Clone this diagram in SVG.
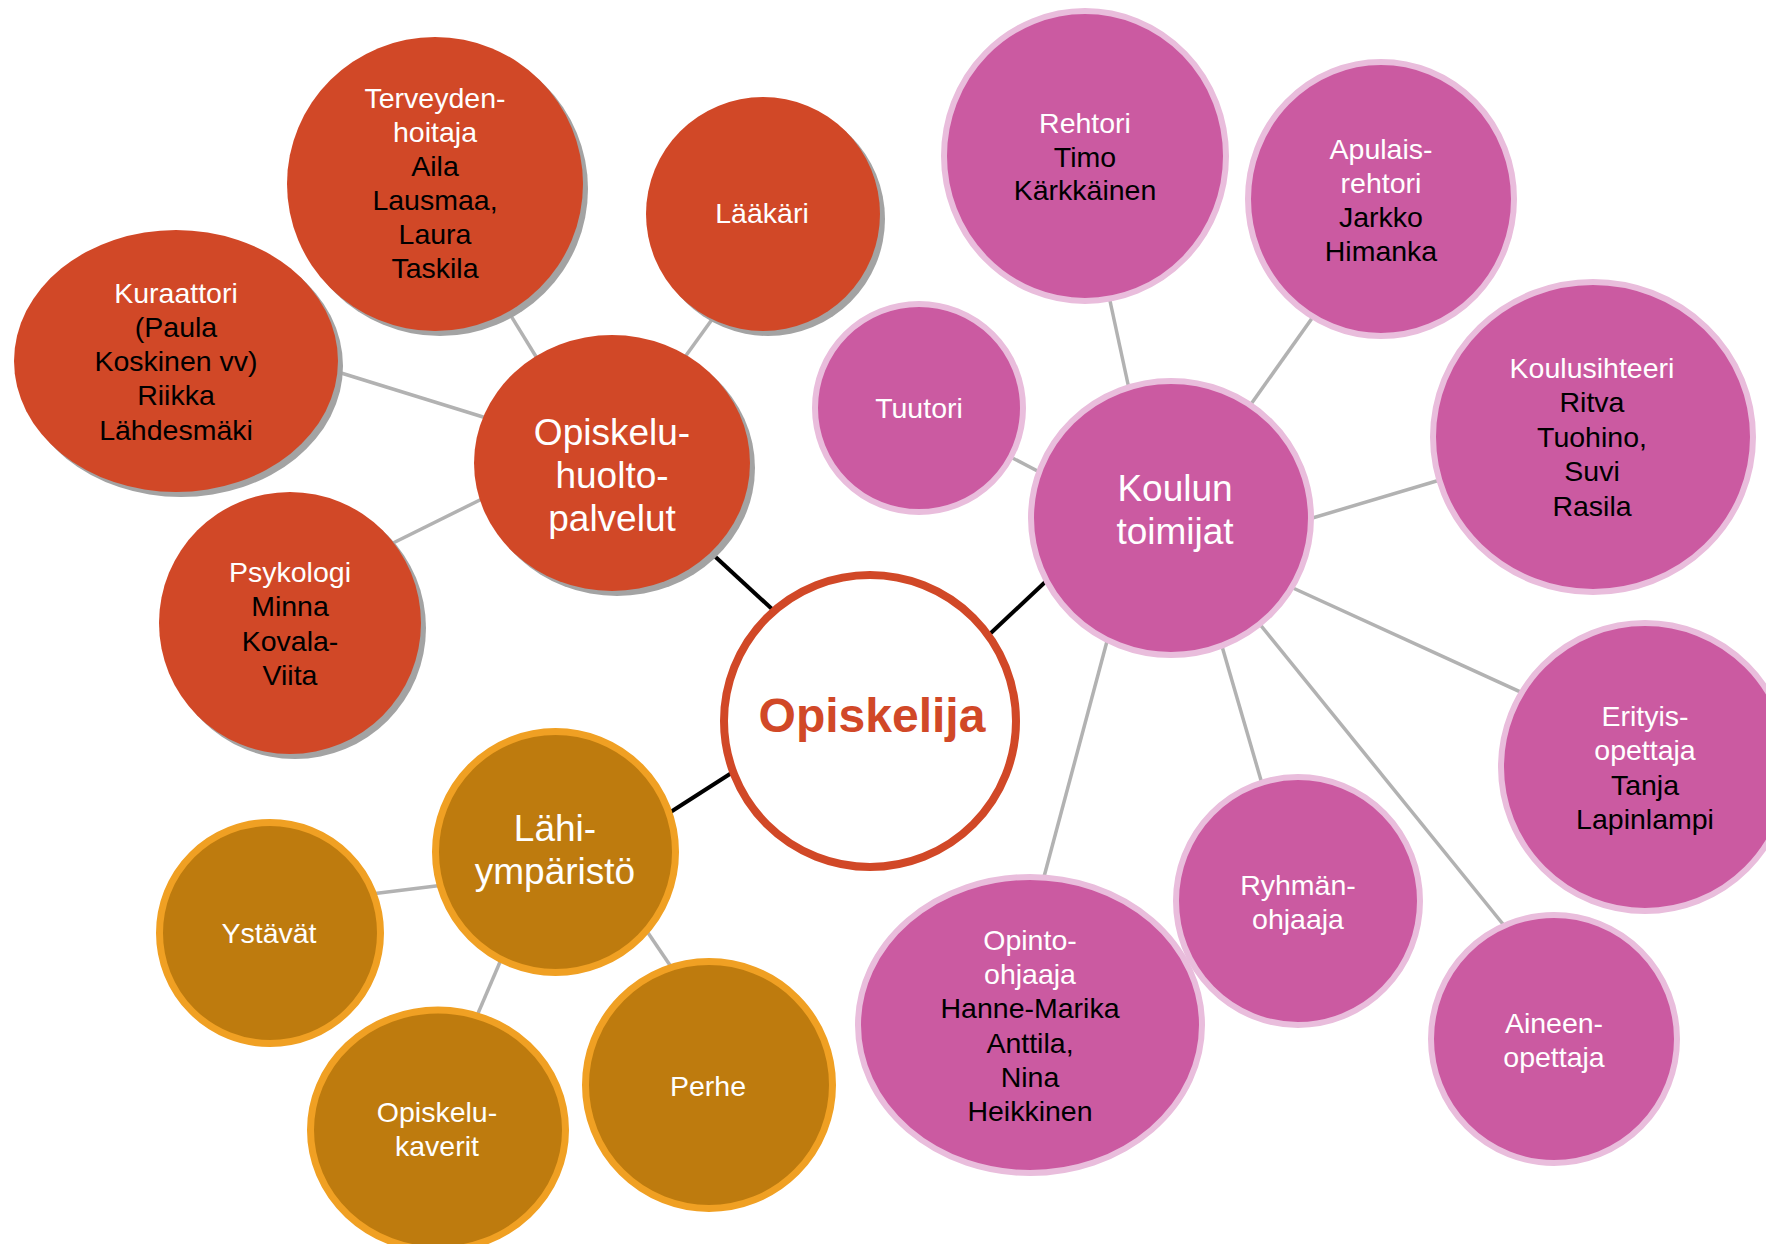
<svg xmlns="http://www.w3.org/2000/svg" width="1766" height="1244" viewBox="0 0 1766 1244">
<style>
.red{fill:#D14827}
.sh{fill:#A3A3A3}
.pink{fill:#CB5AA1;stroke:#E9BDDC;stroke-width:6}
.gold{fill:#BE7B0E;stroke:#F0A023;stroke-width:7}
.ring{fill:#FFFFFF;stroke:#D14827;stroke-width:8}
text{font-family:"Liberation Sans",Arial,sans-serif;text-anchor:middle;font-size:28.5px}
.big{font-size:37px}
.w{fill:#FFFFFF}
.b{fill:#000000}
.title{font-size:48px;font-weight:bold;fill:#D14827}
.conn line{stroke:#B2B2B2;stroke-width:3.5}
.conn line.k{stroke:#000000;stroke-width:4}
</style>
<rect width="1766" height="1244" fill="#FFFFFF"/>
<g id="connectors" class="conn">
<line class="k" x1="695" y1="538" x2="786" y2="622"/>
<line class="k" x1="1059" y1="569" x2="976" y2="647"/>
<line class="k" x1="655" y1="822" x2="747" y2="763"/>
<line x1="500" y1="298" x2="543" y2="368"/>
<line x1="721" y1="307" x2="677" y2="368"/>
<line x1="325" y1="368" x2="496" y2="421"/>
<line x1="381" y1="549" x2="494" y2="493"/>
<line x1="1107" y1="287" x2="1131" y2="398"/>
<line x1="1320" y1="307" x2="1244" y2="414"/>
<line x1="999" y1="451" x2="1049" y2="477"/>
<line x1="1450" y1="477" x2="1299" y2="522"/>
<line x1="1282" y1="583" x2="1538" y2="700"/>
<line x1="1110" y1="630" x2="1041" y2="888"/>
<line x1="1219" y1="636" x2="1265" y2="794"/>
<line x1="1254" y1="617" x2="1511" y2="934"/>
<line x1="363" y1="895" x2="452" y2="884"/>
<line x1="506" y1="948" x2="473" y2="1025"/>
<line x1="640" y1="921" x2="678" y2="977"/>
</g>
<g id="terveydenhoitaja">
<ellipse class="sh" cx="440" cy="189" rx="148" ry="147"/>
<ellipse class="red" cx="435" cy="184" rx="148" ry="147"/>
<text x="435" y="108" class="w">Terveyden-</text>
<text x="435" y="142" class="w">hoitaja</text>
<text x="435" y="176" class="b">Aila</text>
<text x="435" y="210" class="b">Lausmaa,</text>
<text x="435" y="244" class="b">Laura</text>
<text x="435" y="278" class="b">Taskila</text>
</g>
<g id="laakari">
<ellipse class="sh" cx="768" cy="219" rx="117" ry="117"/>
<ellipse class="red" cx="763" cy="214" rx="117" ry="117"/>
<text x="762" y="223" class="w">Lääkäri</text>
</g>
<g id="kuraattori">
<ellipse class="sh" cx="181" cy="366" rx="162" ry="131"/>
<ellipse class="red" cx="176" cy="361" rx="162" ry="131"/>
<text x="176" y="303" class="w">Kuraattori</text>
<text x="176" y="337" class="b">(Paula</text>
<text x="176" y="371" class="b">Koskinen vv)</text>
<text x="176" y="405" class="b">Riikka</text>
<text x="176" y="440" class="b">Lähdesmäki</text>
</g>
<g id="psykologi">
<ellipse class="sh" cx="295" cy="628" rx="131" ry="131"/>
<ellipse class="red" cx="290" cy="623" rx="131" ry="131"/>
<text x="290" y="582" class="w">Psykologi</text>
<text x="290" y="616" class="b">Minna</text>
<text x="290" y="651" class="b">Kovala-</text>
<text x="290" y="685" class="b">Viita</text>
</g>
<g id="opiskeluhuoltopalvelut">
<ellipse class="sh" cx="617" cy="468" rx="138" ry="128"/>
<ellipse class="red" cx="612" cy="463" rx="138" ry="128"/>
<text x="612" y="445" class="w big">Opiskelu-</text>
<text x="612" y="488" class="w big">huolto-</text>
<text x="612" y="531" class="w big">palvelut</text>
</g>
<g id="opiskelija">
<circle class="ring" cx="870" cy="721" r="146"/>
<text x="872" y="732" class="title">Opiskelija</text>
</g>
<g id="koulun-toimijat">
<ellipse class="pink" cx="1171" cy="518" rx="140" ry="137"/>
<text x="1175" y="501" class="w big">Koulun</text>
<text x="1175" y="544" class="w big">toimijat</text>
</g>
<g id="rehtori">
<ellipse class="pink" cx="1085" cy="156" rx="141" ry="145"/>
<text x="1085" y="133" class="w">Rehtori</text>
<text x="1085" y="167" class="b">Timo</text>
<text x="1085" y="200" class="b">Kärkkäinen</text>
</g>
<g id="apulaisrehtori">
<ellipse class="pink" cx="1381" cy="199" rx="133" ry="137"/>
<text x="1381" y="159" class="w">Apulais-</text>
<text x="1381" y="193" class="w">rehtori</text>
<text x="1381" y="227" class="b">Jarkko</text>
<text x="1381" y="261" class="b">Himanka</text>
</g>
<g id="tuutori">
<ellipse class="pink" cx="919" cy="408" rx="104" ry="104"/>
<text x="919" y="418" class="w">Tuutori</text>
</g>
<g id="koulusihteeri">
<ellipse class="pink" cx="1593" cy="437" rx="160" ry="155"/>
<text x="1592" y="378" class="w">Koulusihteeri</text>
<text x="1592" y="412" class="b">Ritva</text>
<text x="1592" y="447" class="b">Tuohino,</text>
<text x="1592" y="481" class="b">Suvi</text>
<text x="1592" y="516" class="b">Rasila</text>
</g>
<g id="erityisopettaja">
<ellipse class="pink" cx="1645" cy="767" rx="144" ry="144"/>
<text x="1645" y="726" class="w">Erityis-</text>
<text x="1645" y="760" class="w">opettaja</text>
<text x="1645" y="795" class="b">Tanja</text>
<text x="1645" y="829" class="b">Lapinlampi</text>
</g>
<g id="ryhmanohjaaja">
<ellipse class="pink" cx="1298" cy="901" rx="122" ry="124"/>
<text x="1298" y="895" class="w">Ryhmän-</text>
<text x="1298" y="929" class="w">ohjaaja</text>
</g>
<g id="aineenopettaja">
<ellipse class="pink" cx="1554" cy="1039" rx="123" ry="124"/>
<text x="1554" y="1033" class="w">Aineen-</text>
<text x="1554" y="1067" class="w">opettaja</text>
</g>
<g id="opinto-ohjaaja">
<ellipse class="pink" cx="1030" cy="1025" rx="172" ry="148"/>
<text x="1030" y="950" class="w">Opinto-</text>
<text x="1030" y="984" class="w">ohjaaja</text>
<text x="1030" y="1018" class="b">Hanne-Marika</text>
<text x="1030" y="1053" class="b">Anttila,</text>
<text x="1030" y="1087" class="b">Nina</text>
<text x="1030" y="1121" class="b">Heikkinen</text>
</g>
<g id="lahiymparisto">
<ellipse class="gold" cx="555.5" cy="852" rx="120" ry="120.5"/>
<text x="555" y="841" class="w big">Lähi-</text>
<text x="555" y="884" class="w big">ympäristö</text>
</g>
<g id="ystavat">
<ellipse class="gold" cx="270" cy="933" rx="110.5" ry="110.5"/>
<text x="269" y="943" class="w">Ystävät</text>
</g>
<g id="opiskelukaverit">
<ellipse class="gold" cx="438" cy="1130" rx="127.5" ry="120"/>
<text x="437" y="1122" class="w">Opiskelu-</text>
<text x="437" y="1156" class="w">kaverit</text>
</g>
<g id="perhe">
<ellipse class="gold" cx="709" cy="1085" rx="123.5" ry="123.5"/>
<text x="708" y="1096" class="w">Perhe</text>
</g>
</svg>
